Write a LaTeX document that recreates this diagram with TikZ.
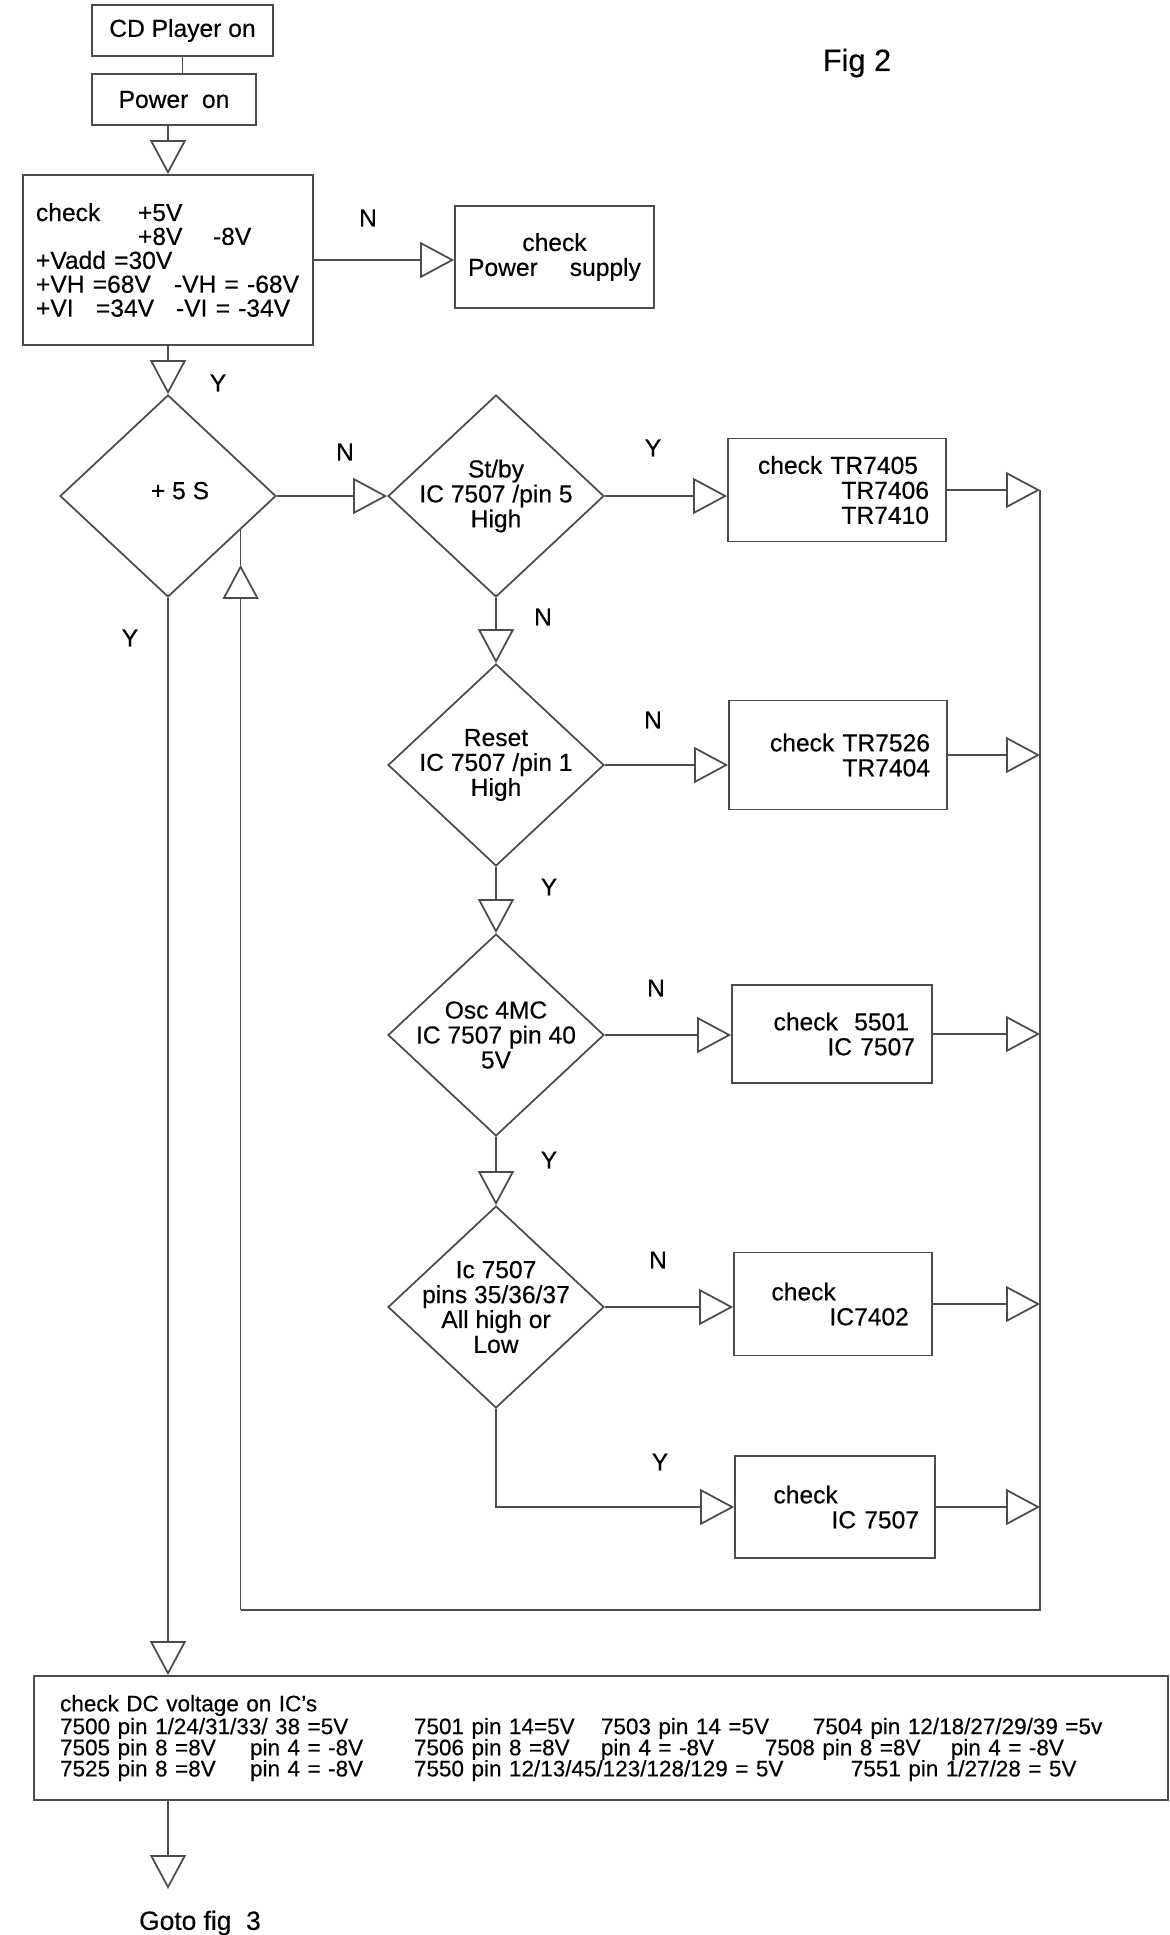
\documentclass[tikz,border=0pt]{standalone}
\usepackage{fontspec}
\setmainfont{Liberation Sans}[UprightFeatures={FakeBold=0.4}]
\usepackage{tikz}
\usetikzlibrary{arrows.meta,calc,positioning,shapes.geometric}

\newcommand{\colbox}[2]{\makebox[#1][l]{#2}}

\begin{document}
\begin{tikzpicture}[x=0.02cm, y=-0.02cm, line width=1pt, black!70, text=black,
  font=\fontsize{14}{14.2}\selectfont,
  blk/.style={draw, rectangle, inner sep=3pt},
  dec/.style={draw, diamond, inner sep=-0.8cm, minimum width=4.32cm, minimum height=4.04cm, align=center},
  arr/.style={-{Triangle[open, length=0.68cm, width=0.72cm]}}]
\useasboundingbox (0,0) rectangle (1170,1935);

% start and supply check
\node[blk, minimum width=3.62cm, minimum height=1.02cm] (cdon) at (182.5,30.5) {CD Player on};
\node[blk, minimum width=3.28cm, minimum height=1.02cm] (pwron) at (174,99.5) {Power\ \ on};
\node[blk, minimum width=5.8cm, minimum height=3.4cm, text width=5.28cm, align=left,
  font=\fontsize{14}{13.6}\selectfont] (chk) at (168,260)
 {\colbox{2.04cm}{check}+5V\\
  \hspace*{2.04cm}\colbox{1.5cm}{+8V}-8V\\
  +Vadd =30V\\
  \colbox{2.76cm}{+VH =68V}-VH = -68V\\
  \colbox{1.2cm}{+VI}\colbox{1.6cm}{=34V}-VI = -34V};
\node[blk, minimum width=3.98cm, minimum height=2.04cm, align=center] (psu) at (554.5,257) {check\\Power\hspace{0.64cm}supply};
\node[font=\fontsize{17.5}{18}\selectfont] (fig) at (857,63) {Fig 2};

% decisions
\node[dec] (fivs) at (168,496) {\raisebox{0.22cm}{\hspace*{0.48cm}+ 5 S}};
\node[dec] (stby) at (496,496) {St/by\\IC 7507 /pin 5\\High};
\node[dec] (reset) at (496,765) {Reset\\IC 7507 /pin 1\\High};
\node[dec] (osc) at (496,1035) {Osc 4MC\\IC 7507 pin 40\\5V};
\node[dec] (icpins) at (496,1307) {Ic 7507\\pins 35/36/37\\All high or\\Low};

% things to check
\node[blk, minimum width=4.36cm, minimum height=2.06cm, text width=3.68cm, align=right] (trbox) at (837,490) {check TR7405\rule{0.22cm}{0pt}\\TR7406\\TR7410};
\node[blk, minimum width=4.36cm, minimum height=2.18cm, text width=3.68cm, align=right] (tr2box) at (838,755) {check TR7526\\TR7404};
\node[blk, minimum width=4cm, minimum height=1.96cm, text width=3.32cm, align=right] (xtalbox) at (832,1034) {check\ \ 5501\rule{0.12cm}{0pt}\\IC 7507};
\node[blk, minimum width=3.96cm, minimum height=2.06cm, text width=3.1cm, align=left] (icbox) at (833,1304) {\hspace*{0.32cm}check\\\hspace*{1.48cm}IC7402};
\node[blk, minimum width=4cm, minimum height=2.04cm, text width=3.34cm, align=left] (ic2box) at (835,1507) {\hspace*{0.44cm}check\\\hspace*{1.6cm}IC~7507};

% DC voltages
\node[blk, minimum width=22.68cm, minimum height=2.48cm, text width=21.64cm, align=left,
  font=\fontsize{12.8}{12}\selectfont] (dcbox) at (601,1738)
 {\lineskiplimit=-6pt check DC voltage on IC's\\[1pt]
  \colbox{7.08cm}{7500 pin 1/24/31/33/ 38 =5V}\colbox{3.74cm}{7501 pin 14=5V}\colbox{4.24cm}{7503 pin 14 =5V}7504 pin 12/18/27/29/39 =5v\\
  \colbox{3.8cm}{7505 pin 8 =8V}\colbox{3.28cm}{pin 4 = -8V}\colbox{3.74cm}{7506 pin 8 =8V}\colbox{3.28cm}{pin 4 = -8V}\colbox{3.72cm}{7508 pin 8 =8V}pin 4 = -8V\\
  \colbox{3.8cm}{7525 pin 8 =8V}\colbox{3.28cm}{pin 4 = -8V}\colbox{8.74cm}{7550 pin 12/13/45/123/128/129 = 5V}7551 pin 1/27/28 = 5V};
\node[font=\fontsize{15}{15}\selectfont] (gofig) at (200,1923) {Goto fig\ \ 3};

% Y / N answers
\foreach \lx/\ly/\lab [count=\i] in {368/218/N, 218/383/Y, 345/452/N, 130/638/Y,
    653/448/Y, 543/617/N, 653/720/N, 549/887/Y, 656/988/N, 549/1160/Y, 658/1260/N, 660/1462/Y}
  \node (ans\i) at (\lx,\ly) {\lab};

% flow
\draw (cdon.south) -- (cdon.south |- pwron.north);
\draw[arr] (pwron.south -| chk.north) -- (chk.north);
\draw[arr] (chk.east) -- (chk.east -| psu.west);
\draw[arr] (chk.south) -- (fivs.north);
\draw[arr] (fivs.east) -- (stby.west);
\draw[arr] (stby.east) -- (stby.east -| trbox.west);
\draw[arr] (stby.south) -- (reset.north);
\draw[arr] (reset.east) -- (reset.east -| tr2box.west);
\draw[arr] (reset.south) -- (osc.north);
\draw[arr] (osc.east) -- (osc.east -| xtalbox.west);
\draw[arr] (osc.south) -- (icpins.north);
\draw[arr] (icpins.east) -- (icpins.east -| icbox.west);
\draw[arr] (icpins.south) |- (ic2box.west);

% return line back to +5 S
\coordinate (bus) at (1040,1610);
\foreach \b in {trbox,tr2box,xtalbox,icbox,ic2box}
  \draw[arr] (\b.east) -- (\b.east -| bus);
\coordinate (fbin) at ($(fivs.east)!0.333!(fivs.south)$);
\coordinate (fbtip) at ([yshift=-0.7cm]fbin);
\draw (trbox.east -| bus) -- (bus) -- (bus -| fbtip);
\draw[arr] (bus -| fbtip) -- (fbtip);
\draw (fbtip) -- (fbin);

% on to the DC check
\draw[arr] (fivs.south) -- (fivs.south |- dcbox.north);
\draw[arr, shorten >=0.3cm] (fivs.south |- dcbox.south) -- (fivs.south |- gofig.north);
\end{tikzpicture}
\end{document}
